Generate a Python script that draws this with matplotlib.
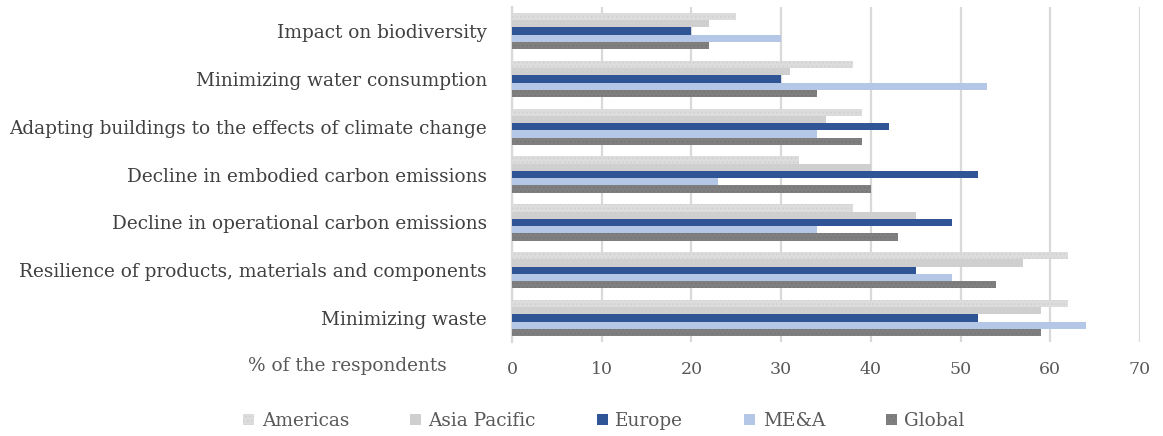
import numpy as np
import matplotlib.pyplot as plt

# categorias (de baixo para cima, como no eixo)
categorias = ['Minimizing waste',
              'Resilience of products, materials and components',
              'Decline in operational carbon emissions',
              'Decline in embodied carbon emissions',
              'Adapting buildings to the effects of climate change',
              'Minimizing water consumption',
              'Impact on biodiversity']

series = ['Americas', 'Asia Pacific', 'Europe', 'ME&A', 'Global']

americas = [62, 62, 38, 32, 39, 38, 25]
asia_pacific = [59, 57, 45, 40, 35, 31, 22]
europe = [52, 45, 49, 52, 42, 30, 20]
mea = [64, 49, 34, 23, 34, 53, 30]
global_ = [59, 54, 43, 40, 39, 34, 22]

valores = [americas, asia_pacific, europe, mea, global_]
cores = ['#dcdcdc', '#cfcfcf', '#2f5597', '#b4c7e7', '#7f7f7f']
hachuras = ['....', None, None, None, '....']
cores_hachura = ['#cecece', None, None, None, '#747474']

plt.rcParams['font.family'] = ['DejaVu Serif']
plt.rcParams['hatch.linewidth'] = 0.5

fig = plt.figure(figsize=(11.63, 4.36), dpi=100)
ax = fig.add_axes([0.4402, 0.2156, 0.54, 0.768])

y = np.arange(len(categorias))
h = 0.152
for i in range(len(series)):
    pos = y + (2 - i) * h
    if hachuras[i]:
        ax.barh(pos, valores[i], height=h, color=cores[i], edgecolor=cores_hachura[i],
                hatch=hachuras[i], linewidth=0, label=series[i], zorder=3)
    else:
        ax.barh(pos, valores[i], height=h, color=cores[i], linewidth=0,
                label=series[i], zorder=3)

ax.set_xlim(0, 70)
ax.set_ylim(-0.5, len(categorias) - 0.5)
ax.set_xticks(np.arange(0, 71, 10))
ax.set_yticks(y)
ax.set_yticklabels(categorias, fontsize=13.3, color='#404040')
ax.tick_params(axis='x', labelsize=12.5, labelcolor='#595959', length=0, pad=14)
ax.tick_params(axis='y', length=0, pad=18)
ax.grid(axis='x', color='#d9d9d9', lw=1.6, zorder=0)
for s in ['top', 'right', 'bottom']:
    ax.spines[s].set_visible(False)
ax.spines['left'].set_color('#d9d9d9')
ax.spines['left'].set_linewidth(1.6)

fig.text(447 / 1163, 1 - 366 / 436, '% of the respondents', ha='right', va='center',
         fontsize=13.3, color='#595959')

handles, labels = ax.get_legend_handles_labels()
fig.legend(handles, labels, loc='center', bbox_to_anchor=(604 / 1163, 1 - 421 / 436),
           ncol=5, frameon=False, fontsize=13.3, labelcolor='#595959',
           handlelength=0.6, handleheight=0.6, handletextpad=0.4, columnspacing=3.3)

fig.savefig('out.png', dpi=100)
